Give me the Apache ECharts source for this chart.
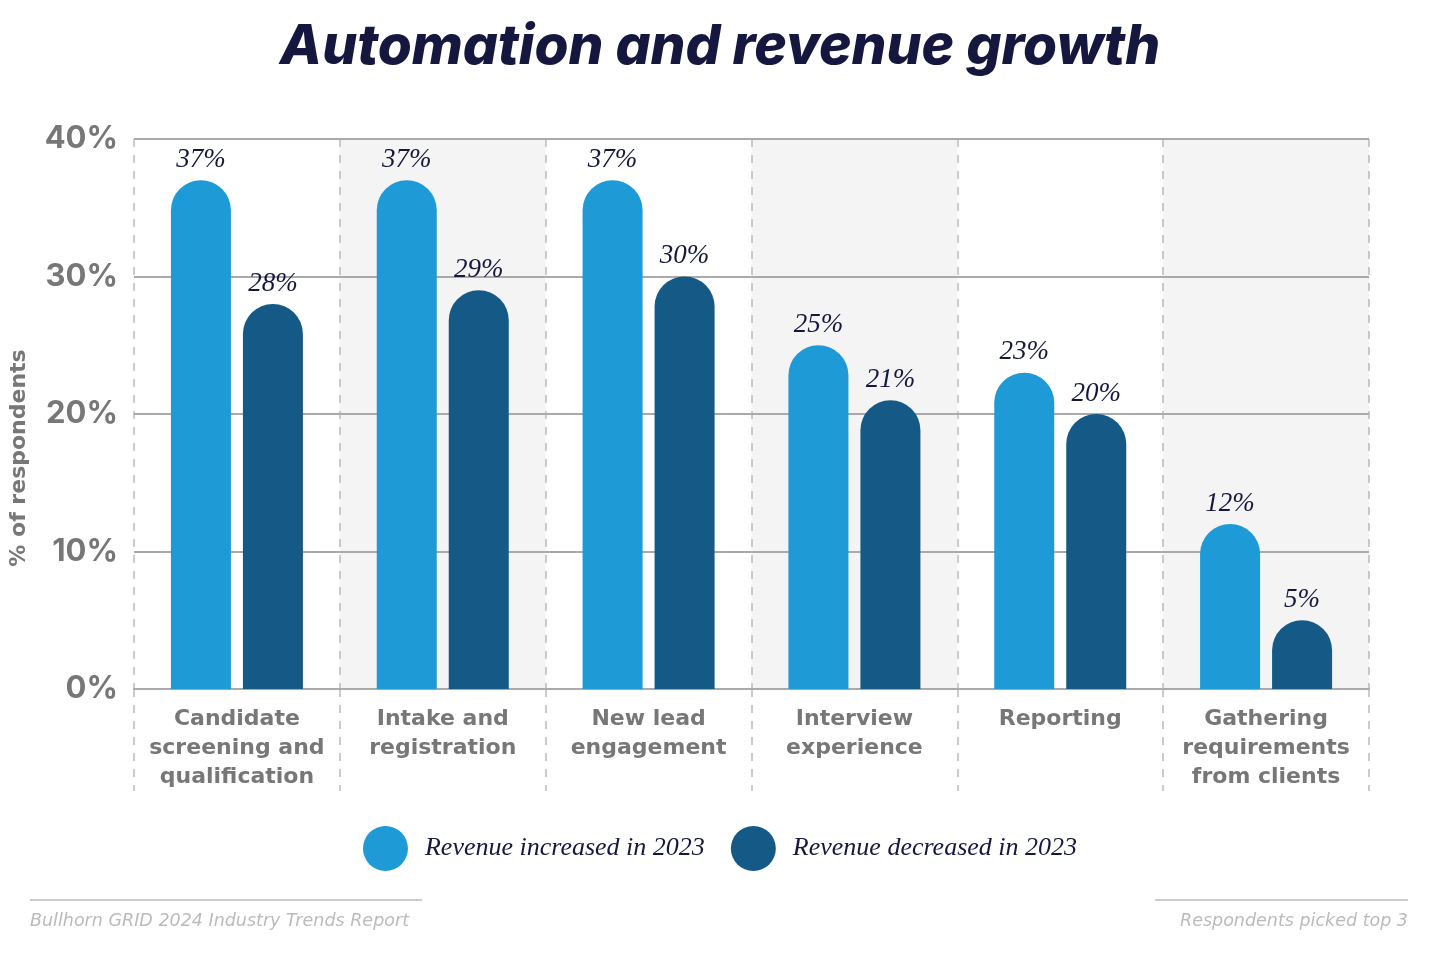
<!DOCTYPE html>
<html>
<head>
<meta charset="utf-8">
<script src="https://cdn.jsdelivr.net/npm/echarts@6/dist/echarts.min.js"></script>
<style>
html,body{margin:0;padding:0;background:#fff;}
#chart{width:1440px;height:956px;}
</style>
</head>
<body>
<div id="chart"></div>
<script>
const categories = ['Candidate\nscreening and\nqualification','Intake and\nregistration','New lead\nengagement','Interview\nexperience','Reporting','Gathering\nrequirements\nfrom clients'];
const seriesNames = ['Revenue increased in 2023','Revenue decreased in 2023'];
const increased = [37,37,37,25,23,12];
const decreased = [28,29,30,21,20,5];
const yTicks = [0,10,20,30,40];

const navy = '#15173f';
const gray = '#777777';
const serif = '"Liberation Serif", "DejaVu Serif", serif';
const sans = 'Inter, "Noto Sans", sans-serif';
const wide = '"DejaVu Sans", Inter, sans-serif';

const chart = echarts.init(document.getElementById('chart'));
const labelCfg = {
  show: true, position: 'top', distance: 7,
  formatter: p => p.value + '%',
  color: navy, fontFamily: serif, fontStyle: 'italic', fontSize: 27
};
chart.setOption({
  backgroundColor: '#fff',
  animation: false,
  title: {
    text: 'Automation and revenue growth',
    left: 'center', top: 15,
    textStyle: {color: navy, fontFamily: sans, fontWeight: 800, fontStyle: 'italic', fontSize: 55}
  },
  legend: {
    bottom: 80, left: 'center',
    icon: 'circle', itemWidth: 45, itemHeight: 45, itemGap: 26,
    textStyle: {color: navy, fontFamily: serif, fontStyle: 'italic', fontSize: 26, padding: [0,0,0,12]},
    data: seriesNames
  },
  grid: {left: 134, right: 71, top: 139, bottom: 267, containLabel: false},
  xAxis: {
    type: 'category', data: categories, z: 0,
    axisLine: {show: true, lineStyle: {color: '#aaaaaa', width: 2}},
    axisTick: {show: true, length: 102, lineStyle: {color: '#bbbbbb', width: 1.5, type: [8,8]}},
    splitLine: {show: true, lineStyle: {color: '#bbbbbb', width: 1.5, type: [8,8]}},
    splitArea: {show: true, areaStyle: {color: ['rgba(255,255,255,0)', '#f4f4f4']}},
    axisLabel: {color: gray, fontFamily: wide, fontWeight: 'bold', fontSize: 22, lineHeight: 29, margin: 16, interval: 0}
  },
  yAxis: {
    type: 'value', min: 0, max: 40, interval: 10, z: 1,
    axisLine: {show: false}, axisTick: {show: false},
    splitLine: {show: true, lineStyle: {color: '#aaaaaa', width: 2}},
    axisLabel: {color: gray, fontFamily: sans, fontWeight: 'bold', fontSize: 31, margin: 16,
      formatter: v => yTicks.includes(v) ? v + '%' : ''}
  },
  series: [
    {name: seriesNames[0], type: 'bar', data: increased, barWidth: 60, barGap: '20%',
      itemStyle: {color: '#1e9ad6', borderRadius: [30,30,0,0]}, label: labelCfg, z: 3},
    {name: seriesNames[1], type: 'bar', data: decreased, barWidth: 60,
      itemStyle: {color: '#155a87', borderRadius: [30,30,0,0]}, label: labelCfg, z: 3}
  ],
  graphic: [
    {type: 'text', x: 19, y: 458, rotation: Math.PI / 2,
      style: {text: '% of respondents', fill: gray, font: 'bold 22px ' + wide, textAlign: 'center', textVerticalAlign: 'middle'}},
    {type: 'rect', shape: {x: 30, y: 899, width: 392, height: 2}, style: {fill: '#cccccc'}},
    {type: 'rect', shape: {x: 1155, y: 899, width: 253, height: 2}, style: {fill: '#cccccc'}},
    {type: 'text', x: 30, y: 921, style: {text: 'Bullhorn GRID 2024 Industry Trends Report', fill: '#bbbbbb',
      font: 'italic 17.5px ' + wide, textVerticalAlign: 'middle', textAlign: 'left'}},
    {type: 'text', x: 1408, y: 921, style: {text: 'Respondents picked top 3', fill: '#bbbbbb',
      font: 'italic 17.5px ' + wide, textVerticalAlign: 'middle', textAlign: 'right'}}
  ]
});
</script>
</body>
</html>
